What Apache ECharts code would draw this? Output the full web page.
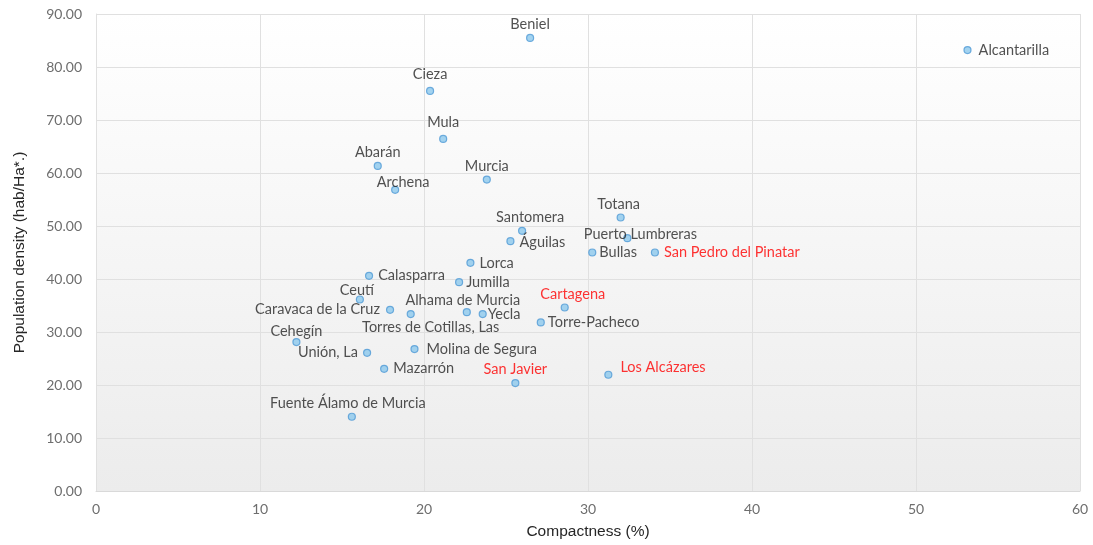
<!DOCTYPE html>
<html>
<head>
<meta charset="utf-8">
<script src="https://cdn.jsdelivr.net/npm/echarts@6/dist/echarts.min.js"></script>
<style>
  html, body { margin: 0; padding: 0; background: #fff; }
  #chart { width: 1093px; height: 545px; }
</style>
</head>
<body>
<div id="chart"></div>
<script>
// municipalities of the Region of Murcia
const towns = [
  'Beniel', 'Alcantarilla', 'Cieza', 'Mula', 'Abarán', 'Archena', 'Murcia',
  'Totana', 'Santomera', 'Águilas', 'Puerto Lumbreras', 'Bullas',
  'San Pedro del Pinatar', 'Lorca', 'Jumilla', 'Calasparra', 'Ceutí',
  'Caravaca de la Cruz', 'Alhama de Murcia', 'Torres de Cotillas, Las', 'Yecla',
  'Cartagena', 'Torre-Pacheco', 'Cehegín', 'Unión, La', 'Molina de Segura',
  'Mazarrón', 'San Javier', 'Los Alcázares', 'Fuente Álamo de Murcia'
];
// Compactness (%)
const compactness = [
  26.47, 53.14, 20.37, 21.17, 17.18, 18.24, 23.83,
  31.99, 25.98, 25.27, 32.40, 30.26,
  34.08, 22.83, 22.14, 16.65, 16.09,
  17.93, 22.61, 19.19, 23.58,
  28.58, 27.12, 12.22, 16.53, 19.42,
  17.57, 25.57, 31.24, 15.60
];
// Population density (hab/Ha*.)
const density = [
  85.48, 83.20, 75.48, 66.42, 61.34, 56.82, 58.76,
  51.60, 49.09, 47.14, 47.70, 45.00,
  45.00, 43.05, 39.40, 40.60, 36.13,
  34.19, 33.75, 33.38, 33.38,
  34.62, 31.80, 28.10, 26.08, 26.78,
  23.06, 20.37, 21.93, 14.01
];
// towns whose label is drawn in red
const highlighted = ['San Pedro del Pinatar', 'Cartagena', 'San Javier', 'Los Alcázares'];

// label placement: [position, dx, dy]
const placement = {
  'Beniel': ['top', 0, 0],
  'Alcantarilla': ['right', 2, 0],
  'Cieza': ['top', 0, -3],
  'Mula': ['top', 0, -3],
  'Abarán': ['top', 0, 0],
  'Archena': ['top', 8, 6],
  'Murcia': ['top', 0, 0],
  'Totana': ['top', -2, 0],
  'Santomera': ['top', 8, 0],
  'Águilas': ['right', 0, 1],
  'Puerto Lumbreras': ['top', 13, 10],
  'Bullas': ['right', -2, 0],
  'San Pedro del Pinatar': ['right', 0, 0],
  'Lorca': ['right', 0, 0],
  'Jumilla': ['right', -2, 0],
  'Calasparra': ['right', 0, 0],
  'Ceutí': ['top', -3, 4],
  'Caravaca de la Cruz': ['left', 0, 0],
  'Alhama de Murcia': ['top', -4, 2],
  'Torres de Cotillas, Las': ['bottom', 20, 0],
  'Yecla': ['right', -4, 0],
  'Cartagena': ['top', 8, 0],
  'Torre-Pacheco': ['right', -2, 0],
  'Cehegín': ['top', 0, 3],
  'Unión, La': ['left', 1, 0],
  'Molina de Segura': ['right', 3, 0],
  'Mazarrón': ['right', 0, 0],
  'San Javier': ['top', 0, 0],
  'Los Alcázares': ['right', 3, -7],
  'Fuente Álamo de Murcia': ['top', -4, 0]
};

const distances = { top: 2, bottom: 2, right: 5, left: 6 };

const points = towns.map((name, i) => {
  const p = placement[name] || ['top', 0, 0];
  return {
    name: name,
    value: [compactness[i], density[i]],
    label: {
      position: p[0],
      distance: distances[p[0]],
      offset: [p[1], p[2]],
      color: highlighted.indexOf(name) != -1 ? '#ff0000' : '#262626'
    }
  };
});

const chart = echarts.init(document.getElementById('chart'));
chart.setOption({
  animation: false,
  backgroundColor: '#ffffff',
  textStyle: { fontFamily: 'Lato' },
  grid: {
    left: 96, right: 13, top: 14, bottom: 54,
    show: true,
    borderWidth: 0,
    backgroundColor: {
      type: 'linear', x: 0, y: 0, x2: 0, y2: 1,
      colorStops: [
        { offset: 0, color: '#ffffff' },
        { offset: 1, color: '#ececec' }
      ]
    }
  },
  xAxis: {
    type: 'value',
    min: 0, max: 60, interval: 10,
    name: 'Compactness (%)',
    nameLocation: 'middle',
    nameGap: 33,
    nameTextStyle: { fontFamily: 'Liberation Sans', fontSize: 15.5, color: '#262626' },
    axisLine: { show: true, lineStyle: { color: '#d9d9d9' } },
    axisTick: { show: false },
    axisLabel: { fontSize: 14, color: '#6e6e6e', margin: 11 },
    splitLine: { show: true, lineStyle: { color: '#e0e0e0' } }
  },
  yAxis: {
    type: 'value',
    min: 0, max: 90, interval: 10,
    name: 'Population density (hab/Ha*.)',
    nameLocation: 'middle',
    nameGap: 68,
    nameTextStyle: { fontFamily: 'Liberation Sans', fontSize: 15.5, color: '#262626' },
    axisLine: { show: true, lineStyle: { color: '#e0e0e0' } },
    axisTick: { show: false },
    axisLabel: {
      fontSize: 14, color: '#6e6e6e', margin: 14,
      formatter: v => v.toFixed(2)
    },
    splitLine: { show: true, lineStyle: { color: '#e0e0e0' } }
  },
  series: [{
    type: 'scatter',
    data: points,
    symbolSize: 7,
    itemStyle: { color: '#8cc8ec', borderColor: '#4f9ad6', borderWidth: 1.2 },
    label: {
      show: true,
      formatter: '{b}',
      fontSize: 14.5,
      fontFamily: 'Lato'
    }
  }]
});
window.addEventListener('resize', () => chart.resize());
</script>
</body>
</html>
